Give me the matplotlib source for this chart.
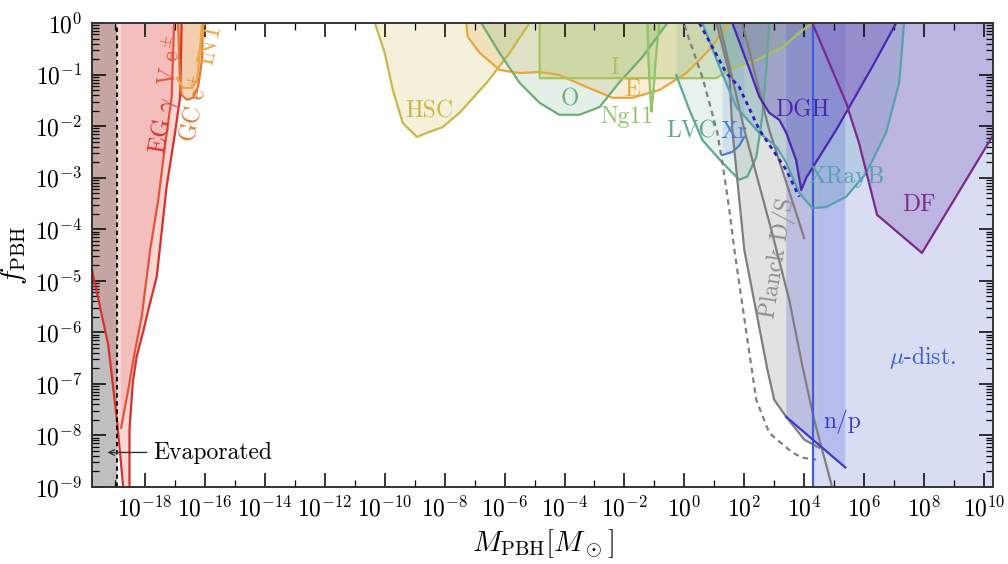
import numpy as np
import matplotlib
matplotlib.use('Agg')
import matplotlib.pyplot as plt
from matplotlib.ticker import LogLocator, NullFormatter

plt.rcParams['font.family'] = ['cmr10', 'DejaVu Serif']
plt.rcParams['mathtext.fontset'] = 'cm'
plt.rcParams['axes.formatter.use_mathtext'] = True
plt.rcParams['axes.unicode_minus'] = False

# Constraint curves, log10(M/Msun) and log10(f_PBH)
evap_logm = -18.94

egg_logm = [-19.9, -19.77, -19.23, -18.93, -18.73, -18.62, -18.52, -18.52, -18.41, -18.28,
            -18.06, -17.89, -17.61, -17.28, -17.0, -16.83, -16.78]
egg_logf = [-4.4, -4.79, -6.24, -7.75, -9.0, -9.6, -9.0, -7.89, -6.98, -6.47,
            -5.98, -5.56, -4.92, -3.17, -2.13, -1.43, 0.0]

ve_logm = [-18.8, -18.56, -18.33, -18.11, -17.83, -17.56, -17.28, -17.11, -17.07, -17.03]
ve_logf = [-7.85, -7.11, -6.34, -5.69, -4.40, -3.43, -2.14, -1.43, -0.72, 0.0]

gc_logm = [-16.9, -16.83, -16.77, -16.6, -16.4, -16.23, -16.1, -16.07]
gc_logf = [0.0, -1.24, -1.4, -1.49, -1.45, -1.24, -0.72, 0.0]

int_logm = [-16.93, -16.73, -16.43, -16.27, -16.17, -16.1]
int_logf = [-1.07, -1.26, -1.26, -1.1, -0.58, 0.0]

hsc_logm = [-10.33, -10.0, -9.73, -9.4, -8.93, -8.5, -8.07, -7.5, -6.6, -5.83, -5.17]
hsc_logf = [0.0, -0.58, -1.30, -1.94, -2.21, -2.11, -2.02, -1.74, -1.16, -0.58, 0.0]

e_logm = [-7.28, -7.23, -6.83, -6.17, -5.5, -4.83, -4.17, -3.27, -2.4, -1.73, -0.83, 0.07, 0.83, 1.5]
e_logf = [0.0, -0.27, -0.58, -0.91, -0.97, -0.95, -1.01, -1.24, -1.45, -1.45, -1.30, -0.97, -0.52, 0.0]

o_logm = [-6.78, -6.17, -5.5, -4.83, -4.17, -3.5, -2.83, -2.17, -1.4, -0.57]
o_logf = [0.0, -0.58, -1.16, -1.55, -1.78, -1.78, -1.63, -1.15, -0.66, 0.0]

i_logm = [-4.83, -4.83, 1.07, 1.5, 2.4, 3.27, 3.83, 4.27]
i_logf = [0.0, -1.07, -1.07, -0.91, -0.72, -0.47, -0.19, 0.0]

ng_logm = [-1.23, -1.2, -1.13, -1.1, -1.03, -0.93, -0.83]
ng_logf = [0.0, -0.72, -1.49, -1.72, -1.3, -0.52, 0.0]

lvc_logm = [-0.27, 0.17, 0.6, 1.27, 1.83, 2.1, 2.4, 2.6, 2.73, 2.83]
lvc_logf = [-1.01, -1.69, -2.27, -2.71, -3.04, -2.98, -2.6, -1.82, -0.95, 0.0]

xr_logm = [1.27, 1.6, 1.83, 2.0]
xr_logf = [-2.56, -2.5, -2.38, -2.21]

planck_logm = [1.07, 1.5, 1.6, 2.0, 2.77, 3.0, 3.4, 4.0, 4.47]
planck_logf = [0.0, -0.97, -2.07, -4.4, -6.72, -7.31, -7.64, -8.08, -8.23]
planck_cut = 4.47

planck_dash_logm = [0.0, 0.17, 0.6, 0.9, 1.1, 1.27, 1.5, 1.67, 2.07, 2.4, 2.83, 3.6, 3.93, 4.4]
planck_dash_logf = [-0.04, -0.33, -1.05, -1.69, -2.13, -2.71, -3.62, -4.4, -6.01, -7.31, -7.95, -8.33, -8.43, -8.47]

planck2_logm = [1.17, 2.0, 2.9, 3.5, 3.93, 4.33, 4.93]
planck2_logf = [0.0, -2.07, -4.01, -5.37, -6.63, -7.69, -9.0]

planck3_logm = [1.93, 2.83, 4.0]
planck3_logf = [0.0, -2.07, -4.17]

dgh_logm = [1.6, 2.1, 2.5, 2.83, 3.17, 3.4, 3.73, 3.9, 4.07, 5.07, 6.27, 7.07]
dgh_logf = [0.0, -0.78, -1.43, -1.74, -1.88, -2.13, -2.66, -3.24, -3.0, -2.07, -0.85, 0.0]

dgh2_logm = [0.5, 1.4, 1.83, 2.5, 3.4, 3.83]
dgh2_logf = [0.0, -0.97, -1.24, -2.07, -2.85, -3.37]

xrb_logm = [0.6, 1.17, 1.73, 2.5, 3.07, 3.4, 3.83, 4.27, 4.73, 5.4, 6.07, 6.73, 7.17, 7.33]
xrb_logf = [0.0, -0.85, -1.63, -2.13, -2.4, -2.71, -3.29, -3.59, -3.57, -3.37, -2.91, -2.13, -1.16, 0.0]

df_logm = [4.27, 5.4, 5.83, 6.43, 7.93, 10.27, 10.6]
df_logf = [0.0, -1.55, -2.33, -3.72, -4.46, -2.21, -1.9]

mu_logm = 4.28
np_logm = [3.4, 5.37]
np_logf = [-7.64, -8.62]


def fill_top(ax, lm, lf, color, alpha, z=1):
    lm = list(lm)
    lf = list(lf)
    xs = [lm[0]] + lm + [lm[-1]]
    ys = [0.5] + lf + [0.5]
    ax.fill(10.0 ** np.array(xs), 10.0 ** np.array(ys), color=color, alpha=alpha, lw=0, zorder=z)


def line(ax, lm, lf, color, lw=1.6, ls='-', z=2):
    ax.plot(10.0 ** np.array(lm), 10.0 ** np.array(lf), color=color, lw=lw, ls=ls, zorder=z)


fig = plt.figure(figsize=(10.08, 5.64), dpi=100)
ax = fig.add_axes([0.0913, 0.1365, 0.8938, 0.8227])
ax.set_xscale('log')
ax.set_yscale('log')
xmin, xmax = 10 ** -19.77, 10 ** 10.3
ax.set_xlim(xmin, xmax)
ax.set_ylim(1e-9, 1)

# evaporated region
ax.axvspan(xmin / 10, 10 ** evap_logm, color='#bfbfbf', lw=0, zorder=0.5)
ax.axvline(10 ** evap_logm, color='k', ls=(0, (2.5, 2)), lw=1.3, zorder=3)

# gamma rays and e+- constraints
fill_top(ax, egg_logm, egg_logf, '#e0463c', 0.21)
fill_top(ax, ve_logm, ve_logf, '#e0463c', 0.17)
fill_top(ax, gc_logm, gc_logf, '#e07a30', 0.3)
fill_top(ax, int_logm, int_logf, '#f0b060', 0.2)
line(ax, egg_logm, egg_logf, '#d9302c')
line(ax, ve_logm, ve_logf, '#e0553a')
line(ax, gc_logm, gc_logf, '#e07a30')
line(ax, int_logm, int_logf, '#e8a848')

# microlensing
fill_top(ax, hsc_logm, hsc_logf, '#c8b84a', 0.2)
fill_top(ax, e_logm, e_logf, '#e4a83c', 0.2)
fill_top(ax, o_logm, o_logf, '#6aaf7a', 0.18)
fill_top(ax, i_logm, i_logf, '#a9c15a', 0.3)
fill_top(ax, ng_logm, ng_logf, '#8fc46a', 0.2)
line(ax, hsc_logm, hsc_logf, '#c8b84a')
line(ax, e_logm, e_logf, '#e4a83c')
line(ax, o_logm, o_logf, '#6aaf7a')
line(ax, i_logm, i_logf, '#a9c15a')
line(ax, ng_logm, ng_logf, '#8fc46a')

# LVC and X-ray
fill_top(ax, lvc_logm, lvc_logf, '#5fa894', 0.15)
line(ax, lvc_logm, lvc_logf, '#5fa894')
fill_top(ax, xr_logm, xr_logf, '#4a80d0', 0.15)
line(ax, xr_logm, xr_logf, '#4a80d0')

# CMB accretion
pl_x = planck_logm + [planck_cut]
pl_y = planck_logf + [0.5]
ax.fill(10.0 ** np.array([planck_logm[0]] + pl_x), 10.0 ** np.array([0.5] + pl_y),
        color='#e2e2e2', lw=0, zorder=0.8)
line(ax, planck_logm[:-1] + [4.5], planck_logf[:-1] + [-8.24], '#7f7f7f')
line(ax, planck_dash_logm, planck_dash_logf, '#7f7f7f', ls=(0, (2.5, 2)))
line(ax, planck2_logm, planck2_logf, '#7f7f7f')
line(ax, planck3_logm, planck3_logf, '#7f7f7f')

# dynamical constraints
ax.axvspan(10 ** mu_logm, xmax * 10, color='#8090d8', alpha=0.3, lw=0, zorder=0.7)
ax.axvline(10 ** mu_logm, color='#3f60d8', lw=1.6, zorder=2)
ax.fill(10.0 ** np.array([np_logm[0], np_logm[0], np_logm[1], np_logm[1]]),
        10.0 ** np.array([0.5, np_logf[0], np_logf[1], 0.5]),
        color='#6a70e0', alpha=0.3, lw=0, zorder=1)
line(ax, np_logm, np_logf, '#3a3ad0')

fill_top(ax, xrb_logm, xrb_logf, '#5aa0b4', 0.25)
line(ax, xrb_logm, xrb_logf, '#5aa0b4')
fill_top(ax, dgh_logm, dgh_logf, '#5a3cb4', 0.3)
line(ax, dgh_logm, dgh_logf, '#4a28b0')
line(ax, dgh2_logm, dgh2_logf, '#2a20c0', lw=2, ls=(0, (1.5, 1.5)))
fill_top(ax, df_logm, df_logf, '#8a6ac0', 0.35)
line(ax, df_logm, df_logf, '#7a2a8a')

# labels
fs = 17
labels = [
    ("EG $\\gamma$", -17.4, -1.98, '#d9302c', 80),
    ("V e$^{\\pm}$", -17.15, -0.74, '#e0553a', 80),
    ("GC e$^{+}$", -16.33, -1.65, '#e07a30', 78),
    ("INT", -15.8, -0.4, '#e8a848', 78),
    ("HSC", -8.5, -1.72, '#c8b84a', 0),
    ("O", -3.83, -1.49, '#6aaf7a', 0),
    ("I", -2.33, -0.87, '#a9c15a', 0),
    ("E", -1.73, -1.30, '#e4a83c', 0),
    ("Ng11", -1.93, -1.82, '#8fc46a', 0),
    ("LVC", 0.23, -2.11, '#5fa894', 0),
    ("Xr", 1.67, -2.11, '#4a80d0', 0),
    ("DGH", 3.93, -1.69, '#4a28b0', 0),
    ("XRayB", 5.43, -2.98, '#5aa0b4', 0),
    ("DF", 7.83, -3.53, '#7a2a8a', 0),
    ("Planck D/S", 3.1, -4.55, '#8c8c8c', 81),
    ("$\\mu$-dist.", 7.93, -6.49, '#3f5fcf', 0),
    ("n/p", 5.27, -7.73, '#3a3ad0', 0),
]
for txt, lx, ly, c, rot in labels:
    ax.text(10 ** lx, 10 ** ly, txt, color=c, fontsize=fs, rotation=rot,
            ha='center', va='center', zorder=4)

ax.annotate('', xy=(10 ** -19.35, 10 ** -8.33), xytext=(10 ** -17.85, 10 ** -8.33),
            arrowprops=dict(arrowstyle='->', color='#333333', lw=1.0), zorder=4)
ax.text(10 ** -17.73, 10 ** -8.33, 'Evaporated', fontsize=fs, ha='left', va='center', zorder=4)

# ticks
ax.set_xticks([10.0 ** k for k in range(-18, 11, 2)])
ax.set_xticklabels(["$10^{%d}$" % k for k in range(-18, 11, 2)])
ax.set_xticks([10.0 ** k for k in range(-19, 11, 2)], minor=True)
ax.xaxis.set_minor_formatter(NullFormatter())
ax.set_yticks([10.0 ** k for k in range(-9, 1)])
ax.set_yticklabels(["$10^{%d}$" % k for k in range(-9, 1)])
ax.yaxis.set_minor_locator(LogLocator(base=10, subs=np.arange(2, 10), numticks=20))
ax.yaxis.set_minor_formatter(NullFormatter())
ax.tick_params(which='both', direction='in', top=True, right=True, labelsize=17, pad=7)
ax.tick_params(which='major', length=10, width=1.1)
ax.tick_params(which='minor', length=5, width=0.9)
for s in ax.spines.values():
    s.set_linewidth(1.4)
    s.set_color('#333333')
    s.set_zorder(5)

ax.set_xlabel("$M_{\\rm PBH}[M_\\odot]$", fontsize=21, labelpad=4)
ax.set_ylabel("$f_{\\rm PBH}$", fontsize=21, labelpad=4)

fig.savefig('out.png', dpi=100)
